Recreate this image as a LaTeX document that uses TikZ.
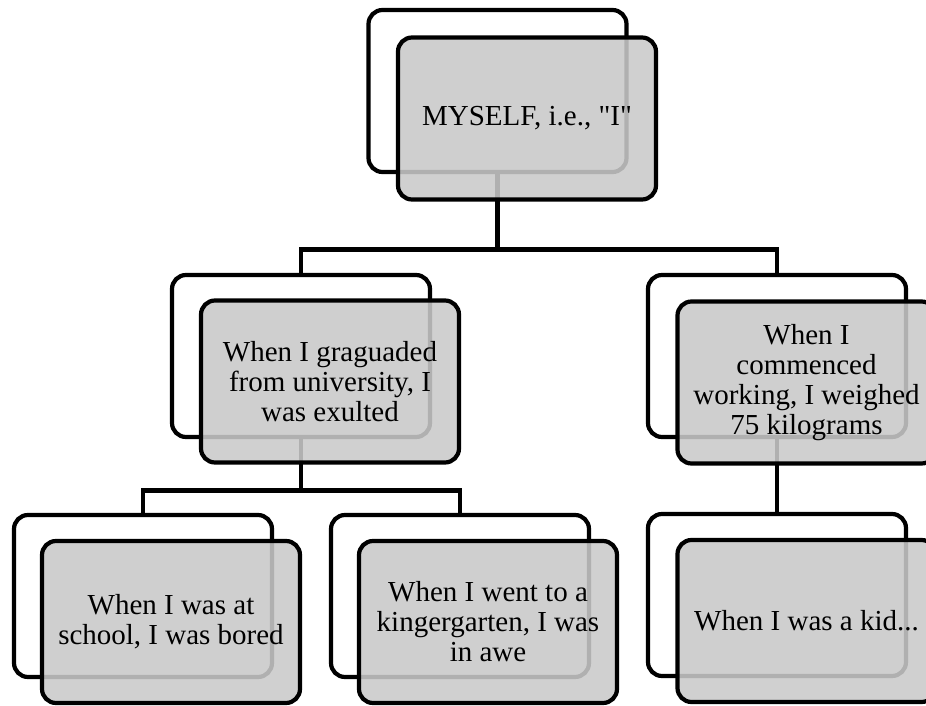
\documentclass[tikz,border=0pt]{standalone}
\usepackage{fontspec}
\setmainfont{Liberation Serif}[Ligatures=TeXOff]
\begin{document}
\begin{tikzpicture}[x=1pt,y=-1pt,
  card/.style={draw=black, line width=4.2pt, rounded corners=14pt,
    minimum width=258pt, minimum height=162pt, inner sep=0pt, outer sep=0pt},
  backcard/.style={card, fill=white},
  frontcard/.style={card, fill=black!21, fill opacity=0.88, text opacity=1,
    align=center, font=\fontsize{29}{30}\selectfont},
  link/.style={draw=black, line width=4.2pt}]
\clip (0,0) rectangle (926,706);

% back cards
\node[backcard] (b0) at (497.5,91) {};
\node[backcard] (b1) at (301,356) {};
\node[backcard] (b2) at (777,356) {};
\node[backcard] (b3) at (143,596) {};
\node[backcard] (b4) at (460,596) {};
\node[backcard] (b5) at (777,595) {};

% tree connectors
\coordinate (j0) at (497.5,249.5);
\coordinate (j1) at (301,490.5);
\draw[link] (b0.south) -- (j0);
\draw[link] (b1.north) |- (j0) -| (b2.north);
\draw[link] (b1.south) -- (j1);
\draw[link] (b3.north) |- (j1) -| (b4.north);
\draw[link] (b2.south) -- (b5.north);

% front cards with the texts
\node[frontcard] (f0) at (527,118.5) {MYSELF, i.e., "I"};
\node[frontcard] (f1) at (330,381.5) {When I graguaded\\from university, I\\was exulted};
\node[frontcard] (f2) at (806.5,382.5) {When I\\commenced\\working, I weighed\\75 kilograms};
\node[frontcard] (f3) at (171,622) {When I was at\\school, I was bored};
\node[frontcard] (f4) at (488,622) {When I went to a\\kingergarten, I was\\in awe};
\node[frontcard] (f5) at (806.5,621) {When I was a kid...};
\end{tikzpicture}
\end{document}
